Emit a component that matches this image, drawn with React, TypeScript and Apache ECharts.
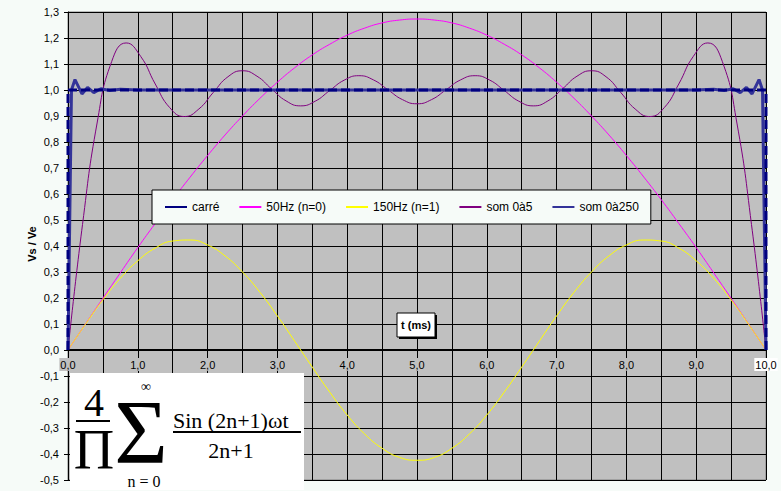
import React, { useEffect, useRef } from "react";
import * as echarts from "echarts";

// ---- data ----
const sineT = [0, 0.25, 0.5, 0.75, 1, 1.25, 1.5, 1.75, 2, 2.25, 2.5, 2.75, 3, 3.25, 3.5, 3.75, 4, 4.25, 4.5, 4.75, 5,
  5.25, 5.5, 5.75, 6, 6.25, 6.5, 6.75, 7, 7.25, 7.5, 7.75, 8, 8.25, 8.5, 8.75, 9, 9.25, 9.5, 9.75, 10];
const hz50 = [0, 0.100, 0.199, 0.297, 0.394, 0.487, 0.578, 0.665, 0.748, 0.827, 0.900, 0.968, 1.030, 1.086, 1.135, 1.176, 1.211, 1.238, 1.258, 1.269, 1.273,
  1.269, 1.258, 1.238, 1.211, 1.176, 1.135, 1.086, 1.030, 0.968, 0.900, 0.827, 0.748, 0.665, 0.578, 0.487, 0.394, 0.297, 0.199, 0.100, 0];
const hz150 = [0, 0.099, 0.193, 0.276, 0.343, 0.392, 0.419, 0.423, 0.404, 0.362, 0.300, 0.222, 0.131, 0.033, -0.066, -0.162, -0.250, -0.323, -0.378, -0.413, -0.424,
  -0.413, -0.378, -0.323, -0.250, -0.162, -0.066, 0.033, 0.131, 0.222, 0.300, 0.362, 0.404, 0.423, 0.419, 0.392, 0.343, 0.276, 0.193, 0.099, 0];
const som5T = [0, 0.208, 0.417, 0.625, 0.833, 1.042, 1.25, 1.458, 1.667, 1.875, 2.083, 2.292, 2.5, 2.708, 2.917, 3.125, 3.333, 3.542, 3.75, 3.958, 4.167, 4.375, 4.583, 4.792, 5.0,
  5.208, 5.417, 5.625, 5.833, 6.042, 6.25, 6.458, 6.667, 6.875, 7.083, 7.292, 7.5, 7.708, 7.917, 8.125, 8.333, 8.542, 8.75, 8.958, 9.167, 9.375, 9.583, 9.792, 10.0];
const som5 = [0, 0.483, 0.873, 1.109, 1.181, 1.129, 1.023, 0.932, 0.898, 0.927, 0.991, 1.051, 1.074, 1.053, 1.004, 0.958, 0.939, 0.957, 0.998, 1.038, 1.055, 1.039, 1.001, 0.963, 0.947,
  0.963, 1.001, 1.039, 1.055, 1.038, 0.998, 0.957, 0.939, 0.958, 1.004, 1.053, 1.074, 1.051, 0.991, 0.927, 0.898, 0.932, 1.023, 1.129, 1.181, 1.109, 0.873, 0.483, 0];
const som250T = [0, 0.05, 0.1, 0.2, 0.28, 0.37, 0.47, 0.6, 0.75, 1, 9, 9.25, 9.4, 9.53, 9.63, 9.72, 9.8, 9.9, 9.95, 10];
const som250 = [0, 1.0, 1.04, 0.985, 1.01, 0.99, 1.005, 0.998, 1.003, 1.0, 1.0, 1.003, 0.998, 1.005, 0.99, 1.01, 0.985, 1.04, 1.0, 0];
const carreT = [0, 0, 10, 10];
const carre = [0, 1, 1, 0];

const seriesNames = ["carré", "50Hz (n=0)", "150Hz (n=1)", "som 0à5", "som 0à250"];
const seriesColors = ["#000080", "#ff00ff", "#ffff00", "#800080", "#333399"];

const zip = (xs: number[], ys: number[]) => xs.map((x, i) => [x, ys[i]]);
const fmt = (v: number) => (Math.abs(v) < 1e-9 ? 0 : v).toFixed(1).replace(".", ",");

const BG = "#f6fbf8";
const SANS = "Arial, 'Liberation Sans', sans-serif";
const SERIF = "'Liberation Serif', 'Times New Roman', serif";

export default function App() {
  const ref = useRef<HTMLDivElement>(null);
  useEffect(() => {
    if (!ref.current) return;
    const chart = echarts.init(ref.current, undefined, { renderer: "svg" });
    chart.setOption({
      animation: false,
      backgroundColor: BG,
      textStyle: { fontFamily: SANS },
      color: seriesColors,
      grid: {
        left: 68, top: 12, right: 15, bottom: 11, show: true, outerBoundsMode: "none", containLabel: false,
        backgroundColor: "#c0c0c0", borderColor: "#808080", borderWidth: 1,
      },
      legend: {
        data: seriesNames,
        left: 152, top: 190,
        backgroundColor: BG, borderColor: "#000", borderWidth: 1,
        padding: [11, 12, 11, 13],
        itemGap: 20, itemWidth: 22, itemHeight: 2, icon: "rect",
        textStyle: { fontSize: 12, color: "#000", fontFamily: SANS },
      },
      xAxis: {
        type: "value", min: 0, max: 10, interval: 1, position: "bottom", offset: -130,
        axisLine: { onZero: false, lineStyle: { color: "#000", width: 2 } },
        axisTick: { show: true, length: 5, lineStyle: { color: "#000", width: 1 } },
        minorTick: { show: false, splitNumber: 2 },
        minorSplitLine: { show: true, lineStyle: { color: "#000", width: 1 } },
        splitLine: { show: true, lineStyle: { color: "#000", width: 1 } },
        axisLabel: {
          margin: 8, color: "#000", fontSize: 11, fontFamily: SANS,
          formatter: (v: number) => (v === 10 ? `{w|${fmt(v)}}` : `{g|${fmt(v)}}`),
          rich: {
            g: { backgroundColor: "#c0c0c0", padding: [1, 1], fontSize: 11, color: "#000", fontFamily: SANS },
            w: { backgroundColor: "#ffffff", padding: [1, 1], fontSize: 11, color: "#000", fontFamily: SANS },
          },
        },
      },
      yAxis: {
        type: "value", min: -0.5, max: 1.3, interval: 0.1,
        axisLine: { show: true, onZero: false, lineStyle: { color: "#000", width: 1 } },
        axisTick: { show: true, length: 4, lineStyle: { color: "#000" } },
        splitLine: { show: true, lineStyle: { color: "#000", width: 1 } },
        axisLabel: { margin: 9, color: "#000", fontSize: 11, fontFamily: SANS, formatter: (v: number) => fmt(v) },
      },
      series: [
        { name: seriesNames[0], type: "line", data: zip(carreT, carre), showSymbol: false, z: 6,
          itemStyle: { color: seriesColors[0] }, lineStyle: { color: seriesColors[0], width: 3, type: [9, 4] } },
        { name: seriesNames[1], type: "line", data: zip(sineT, hz50), showSymbol: false, smooth: true, z: 3,
          itemStyle: { color: seriesColors[1] }, lineStyle: { color: seriesColors[1], width: 1 } },
        { name: seriesNames[2], type: "line", data: zip(sineT, hz150), showSymbol: false, smooth: true, z: 3,
          itemStyle: { color: seriesColors[2] }, lineStyle: { color: seriesColors[2], width: 1 } },
        { name: seriesNames[3], type: "line", data: zip(som5T, som5), showSymbol: false, smooth: true, z: 4,
          itemStyle: { color: seriesColors[3] }, lineStyle: { color: seriesColors[3], width: 1 } },
        { name: seriesNames[4], type: "line", data: zip(som250T, som250), showSymbol: false, z: 5,
          itemStyle: { color: seriesColors[4] }, lineStyle: { color: seriesColors[4], width: 3 } },
      ],
      graphic: [
        { type: "text", x: 32, y: 244, rotation: Math.PI / 2, z: 10,
          style: { text: "Vs / Ve", fill: "#000", fontSize: 11, fontWeight: "bold", fontFamily: SANS, align: "center", verticalAlign: "middle" } },
        { type: "rect", shape: { x: 399, y: 315, width: 38, height: 24 }, style: { fill: "#000" }, z: 10 },
        { type: "rect", shape: { x: 397, y: 313, width: 38, height: 24 }, style: { fill: "#ffffff", stroke: "#000", lineWidth: 1 }, z: 11 },
        { type: "text", x: 416, y: 325, z: 12,
          style: { text: "t (ms)", fill: "#000", fontSize: 11, fontWeight: "bold", fontFamily: SANS, align: "center", verticalAlign: "middle" } },
        // formula image
        { type: "rect", shape: { x: 70, y: 373, width: 234, height: 117 }, style: { fill: "#ffffff" }, z: 20 },
        { type: "text", x: 94, y: 402, z: 21, style: { text: "4", fill: "#000", fontSize: 40, lineHeight: 26, fontFamily: SERIF, align: "center", verticalAlign: "middle" } },
        { type: "rect", shape: { x: 76, y: 420, width: 34, height: 2 }, style: { fill: "#000" }, z: 21 },
        { type: "text", x: 94, y: 450, z: 21, style: { text: "Π", fill: "#000", fontSize: 56, lineHeight: 36, fontFamily: SERIF, align: "center", verticalAlign: "middle" } },
        { type: "text", x: 141, y: 432, z: 21, style: { text: "Σ", fill: "#000", fontSize: 92, lineHeight: 50, fontFamily: SERIF, align: "center", verticalAlign: "middle" } },
        { type: "text", x: 146, y: 386, z: 21, style: { text: "∞", fill: "#000", fontSize: 14, lineHeight: 8, fontFamily: SERIF, align: "center", verticalAlign: "middle" } },
        { type: "text", x: 144, y: 481, z: 21, style: { text: "n = 0", fill: "#000", fontSize: 16, lineHeight: 10, fontFamily: SERIF, align: "center", verticalAlign: "middle" } },
        { type: "text", x: 173, y: 420, z: 21, style: { text: "Sin (2n+1)ωt", fill: "#000", fontSize: 22, lineHeight: 18, fontFamily: SERIF, align: "left", verticalAlign: "middle" } },
        { type: "rect", shape: { x: 173, y: 431, width: 128, height: 2 }, style: { fill: "#000" }, z: 21 },
        { type: "text", x: 231, y: 450, z: 21, style: { text: "2n+1", fill: "#000", fontSize: 22, lineHeight: 18, fontFamily: SERIF, align: "center", verticalAlign: "middle" } },
      ],
    });
    return () => chart.dispose();
  }, []);
  return <div ref={ref} style={{ position: "absolute", left: 0, top: 0, width: 781, height: 491 }} />;
}
